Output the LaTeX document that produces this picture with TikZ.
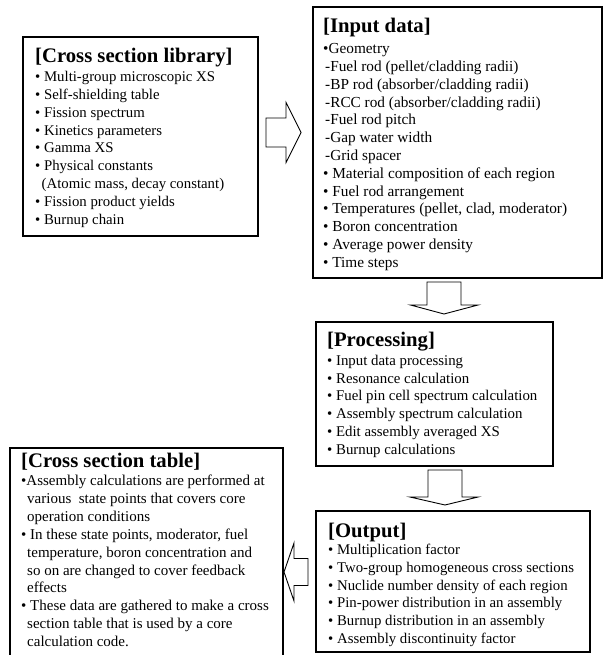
\documentclass[tikz,border=0pt]{standalone}
\usepackage{fontspec}
\setmainfont{Liberation Serif}
\begin{document}
\begin{tikzpicture}[x=1pt,y=-1pt]
\tikzset{
  panel/.style={draw, line width=1.8pt, inner sep=0pt, anchor=north west},
  ttl/.style={anchor=base west, inner sep=0pt, font=\fontsize{20.7}{24}\selectfont\bfseries},
  itm/.style={anchor=base west, inner sep=0pt},
  blk/.style={draw, line width=0.9pt, fill=white, line join=miter},
}
\fill[white] (0,0) rectangle (603,655);
\useasboundingbox (0,0) rectangle (603,655);

% ---------- boxes ----------
\node[panel, minimum width=235pt, minimum height=199pt] (lib) at (22,36) {};
\node[panel, minimum width=289pt, minimum height=271pt] (inp) at (312,6) {};
\node[panel, minimum width=237pt, minimum height=144pt] (proc) at (315,321) {};
\node[panel, minimum width=273pt, minimum height=215pt] (tab) at (9,447) {};
\node[panel, minimum width=274pt, minimum height=141pt] (outp) at (315,510) {};

% ---------- Cross section library ----------
\node[ttl] (lib-t) at (35,63) {[Cross section library]};
\foreach \t [count=\i from 0] in {
  {• Multi-group microscopic XS},
  {• Self-shielding table},
  {• Fission spectrum},
  {• Kinetics parameters},
  {• Gamma XS},
  {• Physical constants},
  {\hspace*{6.5pt}(Atomic mass, decay constant)},
  {• Fission product yields},
  {• Burnup chain}}
  \node[itm, font=\fontsize{14.8}{17}\selectfont] (lib-\i) at (35,{82+17.75*\i}) {\t};

% ---------- Input data ----------
\node[ttl] (inp-t) at (323,33) {[Input data]};
\foreach \t [count=\i from 0] in {
  {•Geometry},
  {\hspace*{2pt}-Fuel rod (pellet/cladding radii)},
  {\hspace*{2pt}-BP rod (absorber/cladding radii)},
  {\hspace*{2pt}-RCC rod (absorber/cladding radii)},
  {\hspace*{2pt}-Fuel rod pitch},
  {\hspace*{2pt}-Gap water width},
  {\hspace*{2pt}-Grid spacer},
  {• Material composition of each region},
  {• Fuel rod arrangement},
  {• Temperatures (pellet, clad, moderator)},
  {• Boron concentration},
  {• Average power density},
  {• Time steps}}
  \node[itm, font=\fontsize{15.3}{17}\selectfont] (inp-\i) at (323,{54+17.75*\i}) {\t};

% ---------- Processing ----------
\node[ttl] (proc-t) at (327,346) {[Processing]};
\foreach \t [count=\i from 0] in {
  {• Input data processing},
  {• Resonance calculation},
  {• Fuel pin cell spectrum calculation},
  {• Assembly spectrum calculation},
  {• Edit assembly averaged XS},
  {• Burnup calculations}}
  \node[itm, font=\fontsize{14.85}{17}\selectfont] (proc-\i) at (327,{365.5+17.7*\i}) {\t};

% ---------- Output ----------
\node[ttl] (outp-t) at (328,537) {[Output]};
\foreach \t [count=\i from 0] in {
  {• Multiplication factor},
  {• Two-group homogeneous cross sections},
  {• Nuclide number density of each region},
  {• Pin-power distribution in an assembly},
  {• Burnup distribution in an assembly},
  {• Assembly discontinuity factor}}
  \node[itm, font=\fontsize{14.8}{17}\selectfont] (outp-\i) at (328,{554.7+17.7*\i}) {\t};

% ---------- Cross section table ----------
\node[ttl] (tab-t) at (21,467) {[Cross section table]};
\foreach \t [count=\i from 0] in {
  {•Assembly calculations are performed at},
  {\hspace*{6pt}various\ \ state points that covers core},
  {\hspace*{6pt}operation conditions},
  {• In these state points, moderator, fuel},
  {\hspace*{6pt}temperature, boron concentration and},
  {\hspace*{6pt}so on are changed to cover feedback},
  {\hspace*{6pt}effects},
  {• These data are gathered to make a cross},
  {\hspace*{6pt}section table that is used by a core},
  {\hspace*{6pt}calculation code.}}
  \node[itm, font=\fontsize{15.0}{17}\selectfont] (tab-\i) at (21,{485.5+17.9*\i}) {\t};

% ---------- block arrows ----------
% library -> input data (right)
\coordinate (a1) at (266,132.5);
\draw[blk] (a1) ++(0,-14.5) -- ++(20,0) -- ++(0,-15.5) -- ++(15,30)
  -- ++(-15,30) -- ++(0,-15.5) -- ++(-20,0) -- cycle;
% input data -> processing (down)
\coordinate (a2) at (444,282);
\draw[blk] (a2) ++(-17,0) -- ++(34,0) -- ++(0,23) -- ++(17,0) -- ++(-34,9)
  -- ++(-33.5,-9) -- ++(16.5,0) -- cycle;
% processing -> output (down)
\coordinate (a3) at (445,470);
\draw[blk] (a3) ++(-17,0) -- ++(34,0) -- ++(0,27) -- ++(16,0) -- ++(-33,8)
  -- ++(-35,-8) -- ++(18,0) -- cycle;
% output -> cross section table (left)
\coordinate (a4) at (308,572);
\draw[blk] (a4) ++(0,-13.5) -- ++(-14,0) -- ++(0,-15.5) -- ++(-10,29)
  -- ++(10,29) -- ++(0,-15.5) -- ++(14,0) -- cycle;
\end{tikzpicture}
\end{document}
